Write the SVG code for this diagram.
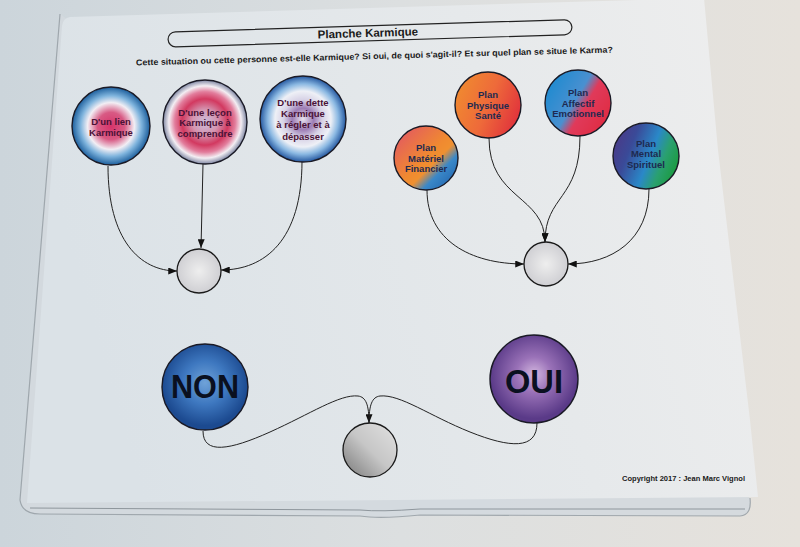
<svg xmlns="http://www.w3.org/2000/svg" width="800" height="547" viewBox="0 0 800 547">
<style>
.t{font-family:"Liberation Sans",Arial,sans-serif;font-weight:bold;text-anchor:middle}
.lt{font-size:9.5px;fill:#4a1236}
.rt{font-size:9.5px;fill:#1e2a50}
.big{font-size:34px;fill:#0a1020}
.node{stroke:#1a1a26;stroke-width:1.4}
.small{stroke:#1a1a1a;stroke-width:1.3;fill:url(#gSmall)}
.edge{fill:none;stroke:#222;stroke-width:1}
</style>
<defs>
<linearGradient id="bg" x1="0" y1="0" x2="1" y2="0">
<stop offset="0" stop-color="#ccd5db"/><stop offset="0.5" stop-color="#dcdfe0"/><stop offset="1" stop-color="#e6e2dc"/>
</linearGradient>
<linearGradient id="sheet" x1="0" y1="0.2" x2="1" y2="0">
<stop offset="0" stop-color="#dbe2e7"/><stop offset="0.6" stop-color="#e6e9eb"/><stop offset="1" stop-color="#eeeeee"/>
</linearGradient>
<radialGradient id="g1"><stop offset="0" stop-color="#d6336a"/><stop offset="0.35" stop-color="#d85a84"/><stop offset="0.6" stop-color="#f2eef4"/><stop offset="0.78" stop-color="#7fb4dd"/><stop offset="1" stop-color="#1c5e9c"/></radialGradient>
<radialGradient id="g2"><stop offset="0" stop-color="#cbbfdc"/><stop offset="0.3" stop-color="#d494b0"/><stop offset="0.55" stop-color="#d23960"/><stop offset="0.72" stop-color="#e27d9c"/><stop offset="0.86" stop-color="#f3eef3"/><stop offset="1" stop-color="#7f87a3"/></radialGradient>
<radialGradient id="g3"><stop offset="0" stop-color="#e9e4ef"/><stop offset="0.25" stop-color="#9d7db5"/><stop offset="0.45" stop-color="#d7d2e6"/><stop offset="0.65" stop-color="#eef0f6"/><stop offset="0.82" stop-color="#8ab8e2"/><stop offset="1" stop-color="#2558a0"/></radialGradient>
<linearGradient id="gMat" x1="0" y1="0" x2="1" y2="1"><stop offset="0" stop-color="#e0506a"/><stop offset="0.5" stop-color="#f08a30"/><stop offset="0.6" stop-color="#f09030"/><stop offset="0.72" stop-color="#3a88c8"/><stop offset="1" stop-color="#1a5aa8"/></linearGradient>
<linearGradient id="gPhy" x1="0" y1="0.3" x2="1" y2="0.7"><stop offset="0" stop-color="#f08a30"/><stop offset="0.5" stop-color="#ee6a3a"/><stop offset="1" stop-color="#e0303c"/></linearGradient>
<linearGradient id="gAff" x1="0" y1="0.2" x2="1" y2="0.8"><stop offset="0" stop-color="#1a8ad0"/><stop offset="0.45" stop-color="#4a90d0"/><stop offset="0.6" stop-color="#e03a5a"/><stop offset="1" stop-color="#e02a40"/></linearGradient>
<linearGradient id="gMen" x1="0" y1="0.3" x2="1" y2="0.7"><stop offset="0" stop-color="#4a3a88"/><stop offset="0.25" stop-color="#3a4a98"/><stop offset="0.55" stop-color="#2a88c8"/><stop offset="0.75" stop-color="#2aa070"/><stop offset="1" stop-color="#1a9a3a"/></linearGradient>
<radialGradient id="gNon" cx="0.5" cy="0.45"><stop offset="0" stop-color="#6fa2d8"/><stop offset="0.5" stop-color="#3e78c0"/><stop offset="1" stop-color="#1c4a90"/></radialGradient>
<radialGradient id="gOui" cx="0.5" cy="0.45"><stop offset="0" stop-color="#d4b8e0"/><stop offset="0.4" stop-color="#9a72b8"/><stop offset="1" stop-color="#5a3a88"/></radialGradient>
<radialGradient id="gSmall"><stop offset="0" stop-color="#eeeeee"/><stop offset="1" stop-color="#cfcfd3"/></radialGradient>
<linearGradient id="gBot" x1="1" y1="0" x2="0" y2="1"><stop offset="0" stop-color="#e2e2e2"/><stop offset="0.5" stop-color="#c6c6c6"/><stop offset="1" stop-color="#787878"/></linearGradient>
<marker id="ar" viewBox="0 0 10 8" refX="10" refY="4" markerWidth="9" markerHeight="7" markerUnits="userSpaceOnUse" orient="auto"><path d="M0,0 L10,4 L0,8 z" fill="#111"/></marker>
</defs>

<rect width="800" height="547" fill="url(#bg)"/>
<!-- plastic sleeve -->
<path d="M60,14 L20,500 Q22,514 40,514 L360,516 Q380,519 420,515 L740,516 Q752,515 750,498" fill="#d4dadf" stroke="#9aa2a8" stroke-width="1.2" opacity="0.9"/>
<path d="M30,508 L360,510 Q380,512 420,509 L745,509" fill="none" stroke="#8e969c" stroke-width="1"/>
<!-- sheet -->
<path d="M70,17 L704,-2 L718,150 L750,420 L758,497 L27,503 L62,26 Q63,18 70,17 z" fill="url(#sheet)"/>

<!-- title -->
<g id="title">
<rect x="168" y="25.8" width="404" height="15" rx="7.5" fill="none" stroke="#222" stroke-width="1.2" transform="rotate(-1.77 370 33.3)"/>
<text class="t" x="368" y="37" font-size="11.5" fill="#1a1a1a" transform="rotate(-1.77 368 37)">Planche Karmique</text>
</g>
<text class="t" x="374.5" y="59" font-size="8.5" fill="#1a1a1a" textLength="477" lengthAdjust="spacingAndGlyphs" transform="rotate(-1.56 374.5 59)">Cette situation ou cette personne est-elle Karmique? Si oui, de quoi s'agit-il? Et sur quel plan se situe le Karma?</text>

<g id="connectors">
<path class="edge" d="M108,166 C108,240 140,271 177,271" marker-end="url(#ar)"/>
<path class="edge" d="M203,164 L201,248" marker-end="url(#ar)"/>
<path class="edge" d="M302,161 C302,240 265,270 221,270" marker-end="url(#ar)"/>
<path class="edge" d="M427,190 C427,240 470,264 524,264" marker-end="url(#ar)"/>
<path class="edge" d="M489,138 C489,200 545,195 545,242" marker-end="url(#ar)"/>
<path class="edge" d="M580,136 C580,200 545,195 545,242" marker-end="url(#ar)"/>
<path class="edge" d="M649,189 C649,240 612,264 568,264" marker-end="url(#ar)"/>
<path class="edge" d="M203,431 C203,455 230,450 270,432 C310,414 340,394 358,396 C366,397 369,405 369,423" marker-end="url(#ar)"/>
<path class="edge" d="M537,423 C537,450 510,448 470,432 C430,416 400,394 380,396 C372,397 369,405 369,423"/>
</g>

<g id="n-lien"><circle class="node" cx="111" cy="126" r="39" fill="url(#g1)"/>
<text class="t lt" x="111" y="125">D'un lien</text><text class="t lt" x="111" y="136">Karmique</text></g>
<g id="n-lecon"><circle class="node" cx="205" cy="122" r="42" fill="url(#g2)" stroke="#555a70"/>
<text class="t lt" x="205" y="115.5">D'une leçon</text><text class="t lt" x="205" y="126">Karmique à</text><text class="t lt" x="205" y="136.5">comprendre</text></g>
<g id="n-dette"><circle class="node" cx="303" cy="119" r="43" fill="url(#g3)"/>
<text class="t lt" x="303" y="106">D'une dette</text><text class="t lt" x="303" y="116.5">Karmique</text><text class="t lt" x="303" y="128">à régler et à</text><text class="t lt" x="303" y="139.5">dépasser</text></g>
<g id="n-c1"><circle class="small" cx="199" cy="271" r="22"/></g>

<g id="n-materiel"><circle class="node" cx="426" cy="158" r="32" fill="url(#gMat)"/>
<text class="t rt" x="426" y="151">Plan</text><text class="t rt" x="426" y="161.5">Matériel</text><text class="t rt" x="426" y="172">Financier</text></g>
<g id="n-physique"><circle class="node" cx="488" cy="105" r="33" fill="url(#gPhy)"/>
<text class="t rt" x="488" y="98">Plan</text><text class="t rt" x="488" y="108.5">Physique</text><text class="t rt" x="488" y="119">Santé</text></g>
<g id="n-affectif"><circle class="node" cx="578" cy="103" r="33" fill="url(#gAff)"/>
<text class="t rt" x="578" y="96">Plan</text><text class="t rt" x="578" y="106.5">Affectif</text><text class="t rt" x="578" y="117">Emotionnel</text></g>
<g id="n-mental"><circle class="node" cx="646" cy="156" r="33" fill="url(#gMen)"/>
<text class="t rt" x="646" y="146.5">Plan</text><text class="t rt" x="646" y="157">Mental</text><text class="t rt" x="646" y="167.5">Spirituel</text></g>
<g id="n-c2"><circle class="small" cx="546" cy="264" r="22"/></g>

<g id="n-non"><circle class="node" cx="205" cy="387" r="43" fill="url(#gNon)"/>
<text class="t big" x="205" y="398" textLength="68" lengthAdjust="spacingAndGlyphs">NON</text></g>
<g id="n-oui"><circle class="node" cx="534" cy="379" r="44" fill="url(#gOui)"/>
<text class="t big" x="534" y="393" textLength="58" lengthAdjust="spacingAndGlyphs">OUI</text></g>
<g id="n-c3"><circle cx="370" cy="450" r="27" fill="url(#gBot)" stroke="#1a1a1a" stroke-width="1.3"/></g>

<text x="622" y="481" font-family="'Liberation Sans',Arial,sans-serif" font-weight="bold" font-size="7.5" fill="#1a1a1a" textLength="123" lengthAdjust="spacingAndGlyphs">Copyright 2017 : Jean Marc Vignol</text>
</svg>
